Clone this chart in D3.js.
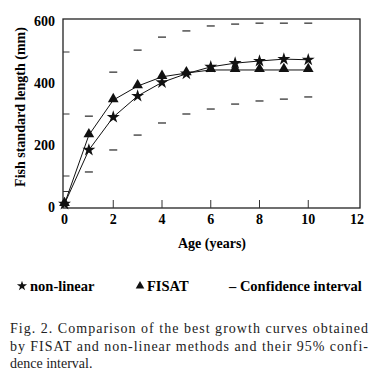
<!DOCTYPE html>
<html>
  <head>
    <title>Growth curves</title>
    <script src="https://cdn.jsdelivr.net/npm/d3@7"></script>
    <style>
      body { margin: 0; background: #fff; }
    </style>
  </head>

  <body>
    <script>
      // Data
      const ages = [0, 1, 2, 3, 4, 5, 6, 7, 8, 9, 10];
      const nonLinear = [10, 184, 290, 358, 402, 430, 452, 464, 471, 477, 475];
      const fisat = [10, 232, 345, 390, 420, 432, 442, 442, 442, 442, 442];

      // 95% confidence interval (upper and lower dashes)
      const ciAges = [1, 2, 3, 4, 5, 6, 7, 8, 9, 10];
      const ciUpper = [293, 435, 506, 548, 568, 584, 590, 593, 593, 593];
      const ciLower = [113, 184, 232, 271, 300, 316, 332, 342, 348, 355];

      const xTicks = [0, 2, 4, 6, 8, 10, 12];
      const yTicks = [0, 200, 400, 600];
      const yMinorTicks = [50, 100, 300, 500];

      const caption = [
        "Fig. 2. Comparison of the best growth curves obtained",
        "by FISAT and non-linear methods and their 95% confi-",
        "dence interval.",
      ];

      const w = 374;
      const h = 377;
      const serif = "'Liberation Serif', 'Times New Roman', serif";

      const svg = d3
        .select("body")
        .append("svg")
        .attr("width", w)
        .attr("height", h);

      const x = d3.scaleLinear().domain([0, 12]).range([64.5, 357]);
      const y = d3.scaleLinear().domain([0, 600]).range([207, 21]);

      // Frame round the plot
      svg
        .append("rect")
        .attr("x", x(0) - 1.5)
        .attr("y", y(600) - 2)
        .attr("width", x(12) + 3 - (x(0) - 1.5))
        .attr("height", y(0) + 1 - (y(600) - 2))
        .attr("fill", "none")
        .attr("stroke", "#222")
        .attr("stroke-width", 1.3);

      // Inward ticks on the y axis
      svg
        .selectAll(".ytick")
        .data(yMinorTicks)
        .enter()
        .append("line")
        .attr("x1", x(0) - 1.5)
        .attr("x2", x(0) + 5)
        .attr("y1", (d) => y(d))
        .attr("y2", (d) => y(d))
        .attr("stroke", "#333")
        .attr("stroke-width", 1);

      // Inward ticks on the x axis
      svg
        .selectAll(".xtick")
        .data(xTicks.filter((d) => d > 0 && d < 12))
        .enter()
        .append("line")
        .attr("x1", (d) => x(d))
        .attr("x2", (d) => x(d))
        .attr("y1", y(0) + 1)
        .attr("y2", y(0) - 7)
        .attr("stroke", "#333")
        .attr("stroke-width", 1);

      // Tick labels
      svg
        .selectAll(".ylabel")
        .data(yTicks)
        .enter()
        .append("text")
        .text((d) => d)
        .attr("x", 55)
        .attr("y", (d) => y(d) + 5)
        .attr("text-anchor", "end")
        .attr("font-family", serif)
        .attr("font-weight", "bold")
        .attr("font-size", "14px");

      svg
        .selectAll(".xlabel")
        .data(xTicks)
        .enter()
        .append("text")
        .text((d) => d)
        .attr("x", (d) => x(d))
        .attr("y", 224)
        .attr("text-anchor", "middle")
        .attr("font-family", serif)
        .attr("font-weight", "bold")
        .attr("font-size", "14px");

      // Axis titles
      svg
        .append("text")
        .text("Age (years)")
        .attr("x", 212)
        .attr("y", 248)
        .attr("text-anchor", "middle")
        .attr("font-family", serif)
        .attr("font-weight", "bold")
        .attr("font-size", "14px");

      svg
        .append("text")
        .text("Fish standard length (mm)")
        .attr("transform", "translate(25,107) rotate(-90)")
        .attr("text-anchor", "middle")
        .attr("font-family", serif)
        .attr("font-weight", "bold")
        .attr("font-size", "14px");

      // Confidence interval dashes
      const dash = 4;
      svg
        .selectAll(".ciup")
        .data(ciAges)
        .enter()
        .append("line")
        .attr("x1", (d) => x(d) - dash)
        .attr("x2", (d) => x(d) + dash)
        .attr("y1", (d, i) => y(ciUpper[i]))
        .attr("y2", (d, i) => y(ciUpper[i]))
        .attr("stroke", "#444")
        .attr("stroke-width", 1.4);

      svg
        .selectAll(".cilow")
        .data(ciAges)
        .enter()
        .append("line")
        .attr("x1", (d) => x(d) - dash)
        .attr("x2", (d) => x(d) + dash)
        .attr("y1", (d, i) => y(ciLower[i]))
        .attr("y2", (d, i) => y(ciLower[i]))
        .attr("stroke", "#444")
        .attr("stroke-width", 1.4);

      // Lines
      const line = d3
        .line()
        .x((d, i) => x(ages[i]))
        .y((d) => y(d));

      svg
        .append("path")
        .attr("d", line(fisat))
        .attr("fill", "none")
        .attr("stroke", "#111")
        .attr("stroke-width", 1);

      svg
        .append("path")
        .attr("d", line(nonLinear))
        .attr("fill", "none")
        .attr("stroke", "#111")
        .attr("stroke-width", 1);

      // Markers
      const tri = d3.symbol().type(d3.symbolTriangle).size(50);
      const star = d3.symbol().type(d3.symbolStar).size(52);

      svg
        .selectAll(".tri")
        .data(fisat)
        .enter()
        .append("path")
        .attr("d", tri)
        .attr("transform", (d, i) => `translate(${x(ages[i])},${y(d) - 1})`)
        .attr("fill", "#111");

      svg
        .selectAll(".star")
        .data(nonLinear)
        .enter()
        .append("path")
        .attr("d", star)
        .attr("transform", (d, i) => `translate(${x(ages[i])},${y(d)})`)
        .attr("fill", "#111");

      // Legend
      const ly = 291;
      svg
        .append("path")
        .attr("d", d3.symbol().type(d3.symbolStar).size(32))
        .attr("transform", `translate(22,${ly - 5})`)
        .attr("fill", "#111");
      svg
        .append("text")
        .text("non-linear")
        .attr("x", 30)
        .attr("y", ly)
        .attr("font-family", serif)
        .attr("font-weight", "bold")
        .attr("font-size", "14.5px");

      svg
        .append("path")
        .attr("d", d3.symbol().type(d3.symbolTriangle).size(32))
        .attr("transform", `translate(140,${ly - 5})`)
        .attr("fill", "#111");
      svg
        .append("text")
        .text("FISAT")
        .attr("x", 147)
        .attr("y", ly)
        .attr("font-family", serif)
        .attr("font-weight", "bold")
        .attr("font-size", "14.5px");

      svg
        .append("text")
        .text("– Confidence interval")
        .attr("x", 229)
        .attr("y", ly)
        .attr("font-family", serif)
        .attr("font-weight", "bold")
        .attr("font-size", "14.5px");

      // Caption, first two lines justified
      svg
        .selectAll(".caption")
        .data(caption)
        .enter()
        .append("text")
        .text((d) => d)
        .attr("x", 10)
        .attr("y", (d, i) => 333 + i * 17.5)
        .attr("textLength", (d, i) => (i < 2 ? 358 : null))
        .attr("lengthAdjust", "spacing")
        .attr("font-family", serif)
        .attr("font-size", "14px")
        .attr("fill", "#222");
    </script>
  </body>
</html>
